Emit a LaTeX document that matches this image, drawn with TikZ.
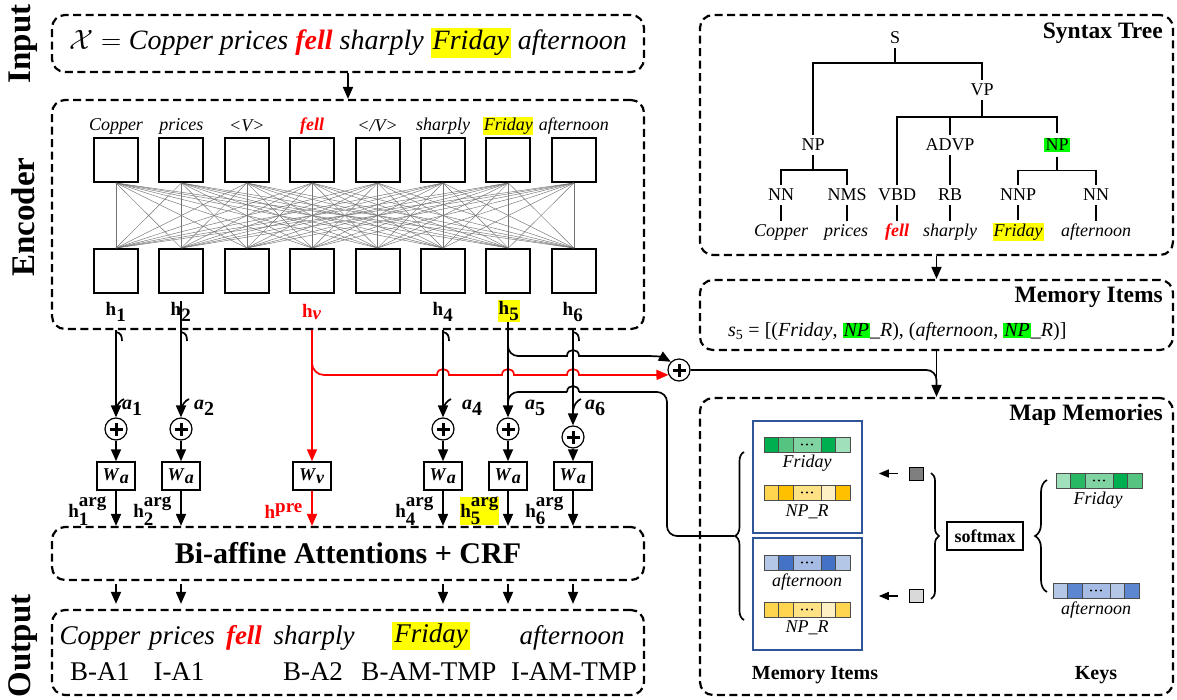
\RequirePackage{fix-cm}
\documentclass[tikz,border=0pt]{standalone}
\usepackage{fontspec}
\setmainfont{Liberation Serif}
\usetikzlibrary{arrows.meta,decorations.pathreplacing,calc}

\definecolor{mred}{RGB}{255,0,0}
\definecolor{hlY}{RGB}{255,255,0}
\definecolor{hlG}{RGB}{0,255,0}
\definecolor{mblue}{RGB}{47,85,151}
\definecolor{gA}{RGB}{0,176,80}
\definecolor{gB}{RGB}{84,196,128}
\definecolor{gC}{RGB}{128,212,162}
\definecolor{gD}{RGB}{160,224,186}
\definecolor{gE}{RGB}{40,184,100}
\definecolor{yA}{RGB}{255,213,79}
\definecolor{yB}{RGB}{255,192,0}
\definecolor{yC}{RGB}{255,226,132}
\definecolor{yD}{RGB}{255,240,196}
\definecolor{bA}{RGB}{180,199,231}
\definecolor{bB}{RGB}{68,114,196}
\definecolor{bC}{RGB}{166,188,228}
\definecolor{bD}{RGB}{92,134,208}
\definecolor{qA}{RGB}{127,127,127}
\definecolor{qB}{RGB}{217,217,217}

\newcommand\fsz[1]{\fontsize{#1}{#1}\selectfont}
\newcommand\hly[2][2pt]{{\setlength{\fboxsep}{#1}\colorbox{hlY}{#2}}}
\newcommand\hlg[2][1pt]{{\setlength{\fboxsep}{#1}\colorbox{hlG}{#2}}}
\newcommand\fell{\textcolor{mred}{\textbf{\textit{fell}}}}
% five-cell embedding bar: x, y, then the five cell colours
\newcommand\vecbar[7]{%
  \begin{scope}[shift={(#1,#2)}]
    \filldraw[cell, fill=#3] (0,0) rectangle (14,15);
    \filldraw[cell, fill=#4] (14,0) rectangle (29,15);
    \filldraw[cell, fill=#5] (29,0) rectangle (57,15);
    \filldraw[cell, fill=#6] (57,0) rectangle (71,15);
    \filldraw[cell, fill=#7] (71,0) rectangle (86,15);
    \foreach \d in {-5,0,5} \fill (43+\d,7.5) circle (1.1pt);
  \end{scope}}

\def\cA{116}
\def\cB{181}
\def\cV{312}
\def\cD{443}
\def\cE{508}
\def\cF{573}

\tikzset{
  dbox/.style={draw, line width=2.2pt, dash pattern=on 8pt off 4.5pt, rounded corners=13pt, inner sep=0pt},
  arr/.style={-{Triangle[length=12pt,width=10pt]}, line width=1.7pt},
  ln/.style={line width=1.7pt},
  ebox/.style={draw, line width=2pt, minimum size=44pt, inner sep=0pt},
  conn/.style={line width=0.45pt, black!55},
  pl/.style={circle, draw, line width=1.2pt, minimum size=22pt, inner sep=0pt, fill=white,
    path picture={
      \draw[line width=3pt] ([xshift=-6.5pt]path picture bounding box.center) -- ([xshift=6.5pt]path picture bounding box.center);
      \draw[line width=3pt] ([yshift=-6.5pt]path picture bounding box.center) -- ([yshift=6.5pt]path picture bounding box.center);}},
  wbox/.style={draw, line width=1.5pt, minimum width=38pt, minimum height=28pt, inner sep=0pt, font=\fsz{18}, fill=white},
  hlab/.style={font=\fsz{19}, inner sep=1pt},
  alab/.style={font=\fsz{20}, inner sep=0pt, anchor=west},
  glab/.style={font=\fsz{19}, inner sep=0pt, anchor=east},
  ttl/.style={font=\fsz{23.5}\bfseries, anchor=east, inner sep=0pt},
  side/.style={font=\fsz{33}\bfseries, rotate=90, inner sep=0pt},
  tn/.style={font=\fsz{18}, inner sep=4pt},
  tw/.style={font=\fsz{18}\itshape, inner sep=3pt},
  tl/.style={line width=1.8pt},
  cell/.style={draw=black!70, line width=0.6pt},
  mbox/.style={draw=mblue, line width=1.6pt, minimum width=109pt, minimum height=112pt, inner sep=0pt},
  blab/.style={font=\fsz{18}\itshape, inner sep=0pt},
}

\begin{document}
\begin{tikzpicture}[x=1pt,y=-1pt]
\fill[white] (0,0) rectangle (1177,700);
\useasboundingbox (0,0) rectangle (1177,700);

% ---------------- left column: frames ----------------
\node[dbox, minimum width=592pt, minimum height=57pt] (inbox) at (348,43.5) {};
\node[dbox, minimum width=592pt, minimum height=229pt] (enc) at (348,214.5) {};
\node[dbox, minimum width=592pt, minimum height=53pt] (biaf) at (348,553.5) {};
\node[dbox, minimum width=592pt, minimum height=85pt] (outbox) at (348,652.5) {};

\node[side] (lin) at (23,44) {Input};
\node[side] (lenc) at (23,217) {Encoder};
\node[side] (lout) at (23,646) {Output};

% input sentence
\node[font=\fsz{28}\itshape, inner sep=0pt] (insent) at (348,43)
  {$\mathcal{X} = {}$Copper prices \fell\ sharply \hly{Friday} afternoon};
\draw[arr] (inbox.south) -- (enc.north);

% ---------------- encoder ----------------
\foreach \i/\w in {0/Copper,1/prices,2/{<V>},3/\fell,4/{</V>},5/sharply,6/{\hly[0.5pt]{Friday}},7/afternoon}{
  \pgfmathsetmacro\xx{116+65.4*\i}
  \node[ebox] (t\i) at (\xx,160) {};
  \node[ebox] (b\i) at (\xx,271) {};
  \node[font=\fsz{18}\itshape, inner sep=1pt] (w\i) at (\xx,126) {\w};
}
\foreach \i in {0,...,7}
  \foreach \j in {0,...,7}
    \draw[conn] (t\i.south) -- (b\j.north);

\node[hlab] (h1) at (\cA,312) {\textbf{h}$_{\textbf{1}}$};
\node[hlab] (h2) at (\cB,312) {\textbf{h}$_{\textbf{2}}$};
\node[hlab, text=mred] (hv) at (\cV,312) {\textbf{h}$_{\textbf{\textit{v}}}$};
\node[hlab] (h4) at (\cD,312) {\textbf{h}$_{\textbf{4}}$};
\node[hlab, fill=hlY] (h5) at (\cE+1,311) {\textbf{h}$_{\textbf{5}}$};
\node[hlab] (h6) at (\cF,312) {\textbf{h}$_{\textbf{6}}$};

% ---------------- per-token branches ----------------
\node[pl] (p1) at (\cA,429) {};
\node[pl] (p2) at (\cB,429) {};
\node[pl] (p4) at (\cD,429) {};
\node[pl] (p5) at (\cE,429) {};
\node[pl] (p6) at (\cF,437) {};

\node[wbox] (wa1) at (\cA,476) {\textbf{\textit{W}}$_{\textbf{\textit{a}}}$};
\node[wbox] (wa2) at (\cB,476) {\textbf{\textit{W}}$_{\textbf{\textit{a}}}$};
\node[wbox] (wv)  at (\cV,476) {\textbf{\textit{W}}$_{\textbf{\textit{v}}}$};
\node[wbox] (wa4) at (\cD,476) {\textbf{\textit{W}}$_{\textbf{\textit{a}}}$};
\node[wbox] (wa5) at (\cE,476) {\textbf{\textit{W}}$_{\textbf{\textit{a}}}$};
\node[wbox] (wa6) at (\cF,476) {\textbf{\textit{W}}$_{\textbf{\textit{a}}}$};

% memory flow from h5 and the predicate
\node[pl] (pM) at (679,370) {};
\draw[ln, mred, rounded corners=12pt] (\cV,345) -- (\cV,375) -- (\cV+25,375);
\draw[arr, mred] (\cV+25,375) -- (\cD-6,375) .. controls (\cD-6,367) and (\cD+6,367) .. (\cD+6,375)
  -- (\cE-6,375) .. controls (\cE-6,367) and (\cE+6,367) .. (\cE+6,375)
  -- (\cF-6,375) .. controls (\cF-6,367) and (\cF+6,367) .. (\cF+6,375) -- (pM.205);
\draw[ln, rounded corners=10pt] (\cE,340) -- (\cE,356) -- (\cE+25,356);
\draw[arr] (\cE+25,356) -- (\cF-6,356) .. controls (\cF-6,348) and (\cF+6,348) .. (\cF+6,356)
  -- (646,356) .. controls (657,356) and (662,357) .. (pM.135);

% vertical feeds into the adders
\draw[arr] (enc.south -| p1) -- (p1.north);
\draw[arr] (h2.north -| p2) -- (p2.north);
\draw[arr] (enc.south -| p4) -- (p4.north);
\draw[arr] (h5.south -| p5) -- (p5.north);
\draw[arr] (enc.south -| p6) -- (p6.north);
\draw[arr, mred] (enc.south -| wv) -- (wv.north);
\foreach \x in {\cA,\cB,\cD,\cF}{
  \draw[ln] (\x,332) .. controls (\x+5,333) and (\x+6,336) .. (\x+6,341);
  \draw[ln] (\x,411) .. controls (\x+1,404) and (\x+4,401) .. (\x+8,399);
}

% memory output returning to token 5
\coordinate (btip) at (734,536);
\draw[ln, rounded corners=10pt] (btip) -- (667,536) -- (667,392) -- (\cF+6,392);
\draw[ln] (\cF+6,392) .. controls (\cF+6,384) and (\cF-6,384) .. (\cF-6,392);
\draw[ln, rounded corners=10pt] (\cF-6,392) -- (\cE,392) -- (\cE,412);

\node[alab] (a1) at (122,408) {\textbf{\textit{a}}$_{\textbf{1}}$};
\node[alab] (a2) at (194,408) {\textbf{\textit{a}}$_{\textbf{2}}$};
\node[alab] (a4) at (462,408) {\textbf{\textit{a}}$_{\textbf{4}}$};
\node[alab] (a5) at (525,408) {\textbf{\textit{a}}$_{\textbf{5}}$};
\node[alab] (a6) at (585,408) {\textbf{\textit{a}}$_{\textbf{6}}$};

\foreach \n in {1,2,4,5,6}{
  \draw[arr] (p\n.south) -- (wa\n.north);
  \draw[arr] (wa\n.south) -- (biaf.north -| wa\n);
}
\draw[arr, mred] (wv.south) -- (biaf.north -| wv);

\node[glab] (g1) at (\cA-9,511) {\textbf{h}$^{\textbf{arg}}_{\textbf{1}}$};
\node[glab] (g2) at (\cB-9,511) {\textbf{h}$^{\textbf{arg}}_{\textbf{2}}$};
\node[glab, text=mred] (gv) at (\cV-9,511) {\textbf{h}$^{\textbf{pre}}$};
\node[glab] (g4) at (\cD-9,511) {\textbf{h}$^{\textbf{arg}}_{\textbf{4}}$};
\node[glab, fill=hlY] (g5) at (\cE-9,511) {\textbf{h}$^{\textbf{arg}}_{\textbf{5}}$};
\node[glab] (g6) at (\cF-9,511) {\textbf{h}$^{\textbf{arg}}_{\textbf{6}}$};

% ---------------- decoder and output ----------------
\node[font=\fsz{30}\bfseries, inner sep=0pt] (biat) at (348,553) {Bi-affine Attentions + CRF};
\foreach \n in {1,2,4,5,6}
  \draw[arr, shorten <=3pt, shorten >=5pt] (biaf.south -| wa\n) -- (outbox.north -| wa\n);

\node[font=\fsz{27}\itshape, inner sep=0pt] (o1) at (100,638) {Copper};
\node[font=\fsz{27}\itshape, inner sep=0pt] (o2) at (182,638) {prices};
\node[font=\fsz{27}, inner sep=0pt] (o3) at (244,638) {\fell};
\node[font=\fsz{27}\itshape, inner sep=0pt] (o4) at (314,638) {sharply};
\node[font=\fsz{27}\itshape, inner sep=0pt] (o5) at (431,636) {\hly{Friday}};
\node[font=\fsz{27}\itshape, inner sep=0pt] (o6) at (572,638) {afternoon};
\node[font=\fsz{27}, inner sep=0pt] (l1) at (100,672) {B-A1};
\node[font=\fsz{27}, inner sep=0pt] (l2) at (179,672) {I-A1};
\node[font=\fsz{27}, inner sep=0pt] (l4) at (313,672) {B-A2};
\node[font=\fsz{27}, inner sep=0pt] (l5) at (429,672) {B-AM-TMP};
\node[font=\fsz{27}, inner sep=0pt] (l6) at (574,672) {I-AM-TMP};

% ---------------- right column: frames ----------------
\node[dbox, minimum width=473pt, minimum height=240pt] (syn) at (936.5,135) {};
\node[dbox, minimum width=473pt, minimum height=70pt] (mem) at (936.5,315) {};
\node[dbox, minimum width=473pt, minimum height=297pt] (map) at (936.5,546.5) {};
\node[ttl] (tsyn) at (1163,33) {Syntax Tree};
\node[ttl] (tmem) at (1163,297) {Memory Items};
\node[ttl] (tmap) at (1163,415) {Map Memories};

\draw[arr] (syn.south) -- (mem.north);
\draw[arr] (mem.south) -- (map.north);
\coordinate (jn) at (936.5,388);
\draw[ln, rounded corners=10pt] (pM.east) -- (mem.south |- pM.east) -- (jn);

% ---------------- syntax tree ----------------
\node[tn] (S) at (895,38) {S};
\node[tn] (VP) at (982,90) {VP};
\node[tn] (NPa) at (813,145) {NP};
\node[tn] (ADVP) at (950,145) {ADVP};
\node[tn] (NPb) at (1057,145) {\hlg[1.5pt]{NP}};
\node[tn] (NNa) at (781,195) {NN};
\node[tn] (NMS) at (847,195) {NMS};
\node[tn] (VBD) at (897,195) {VBD};
\node[tn] (RB) at (950,195) {RB};
\node[tn] (NNP) at (1018,195) {NNP};
\node[tn] (NNb) at (1096,195) {NN};
\node[tw] (tw1) at (781,232) {Copper};
\node[tw] (tw2) at (846,232) {prices};
\node[tw] (tw3) at (897,232) {\fell};
\node[tw] (tw4) at (950,232) {sharply};
\node[tw] (tw5) at (1018,232) {\hly[1pt]{Friday}};
\node[tw] (tw6) at (1096,232) {afternoon};

\draw[tl] (S.south) -- ++(0,15) -| (NPa.north);
\draw[tl] (S.south) -- ++(0,15) -| (VP.north);
\draw[tl] (VP.south) -- ++(0,17) -| (VBD.north);
\draw[tl] (VP.south) -- ++(0,17) -| (ADVP.north);
\draw[tl] (VP.south) -- ++(0,17) -| (NPb.north);
\draw[tl] (NPa.south) -- ++(0,15) -| (NNa.north);
\draw[tl] (NPa.south) -- ++(0,15) -| (NMS.north);
\draw[tl] (ADVP.south) -- (RB.north);
\draw[tl] (NPb.south) -- ++(0,14) -| (NNP.north);
\draw[tl] (NPb.south) -- ++(0,14) -| (NNb.north);
\draw[tl] (NNa.south) -- (NNa.south |- tw1.north);
\draw[tl] (NMS.south) -- (NMS.south |- tw2.north);
\draw[tl] (VBD.south) -- (VBD.south |- tw3.north);
\draw[tl] (RB.south) -- (RB.south |- tw4.north);
\draw[tl] (NNP.south) -- (NNP.south |- tw5.north);
\draw[tl] (NNb.south) -- (NNb.south |- tw6.north);

% ---------------- memory items ----------------
\node[font=\fsz{20}, anchor=west, inner sep=0pt] (s5) at (728,332)
  {\textit{s}\textsubscript{5} = [(\textit{Friday}, \hlg{\textit{NP}}\_\textit{R}), (\textit{afternoon}, \hlg{\textit{NP}}\_\textit{R})]};

% ---------------- map memories ----------------
\node[mbox] (mb1) at (807.5,477) {};
\node[mbox] (mb2) at (807.5,594) {};
\vecbar{764}{437}{gA}{gB}{gC}{gA}{gD}
\node[blab] (mf) at (807,463) {Friday};
\vecbar{764}{485}{yA}{yB}{yC}{yD}{yB}
\node[blab] (mr1) at (807,512) {NP\_R};
\vecbar{764}{555}{bA}{bB}{bC}{bB}{bA}
\node[blab] (ma) at (807,582) {afternoon};
\vecbar{764}{602}{yA}{yA}{yC}{yD}{yA}
\node[blab] (mr2) at (807,628) {NP\_R};

\draw[ln, decorate, decoration={brace, amplitude=9pt}] (744,620) -- (744,452);

\node[draw, fill=qA, line width=0.8pt, minimum width=14pt, minimum height=13pt, inner sep=0pt] (sq1) at (916,473.5) {};
\node[draw, fill=qB, line width=0.8pt, minimum width=14pt, minimum height=13pt, inner sep=0pt] (sq2) at (916,596) {};
\draw[-{Triangle[length=10pt,width=8pt]}, line width=1.6pt, shorten <=11pt, shorten >=16pt] (sq1.west) -- (sq1.west -| mb1.east);
\draw[-{Triangle[length=10pt,width=8pt]}, line width=1.6pt, shorten <=11pt, shorten >=16pt] (sq2.west) -- (sq2.west -| mb2.east);
\draw[ln, decorate, decoration={brace, amplitude=8pt}] (931,473) -- (931,599);

\node[draw, line width=1.5pt, minimum width=76pt, minimum height=28pt, inner sep=0pt, font=\fsz{18}\bfseries] (smax) at (985,536) {softmax};
\draw[ln, decorate, decoration={brace, amplitude=12pt}] (1047,592) -- (1047,480);

\vecbar{1056}{473}{gD}{gE}{gC}{gA}{gB}
\node[blab] (kf) at (1098,500) {Friday};
\vecbar{1053}{583}{bA}{bD}{bC}{bA}{bD}
\node[blab] (ka) at (1096,610) {afternoon};

\node[font=\fsz{20}\bfseries, inner sep=0pt] (lmi) at (815,675) {Memory Items};
\node[font=\fsz{20}\bfseries, inner sep=0pt] (lkeys) at (1096,675) {Keys};
\end{tikzpicture}
\end{document}
